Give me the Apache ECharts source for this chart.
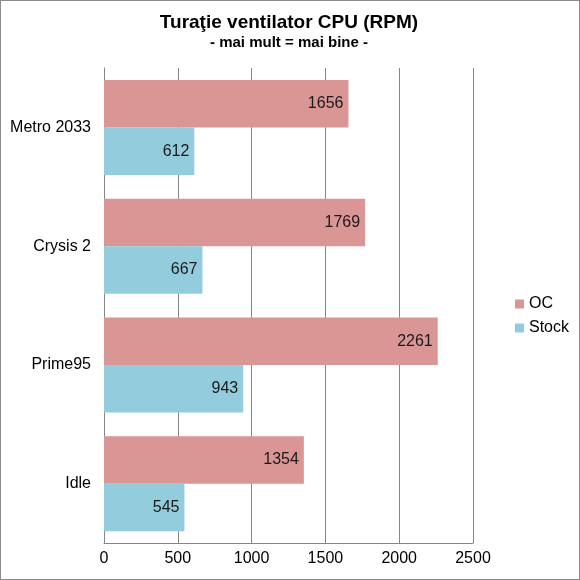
<!DOCTYPE html>
<html>
<head>
<meta charset="utf-8">
<script src="https://cdn.jsdelivr.net/npm/echarts@6/dist/echarts.min.js"></script>
<style>
  html, body { margin: 0; padding: 0; background: #fff; }
  #chart { width: 578px; height: 578px; border: 1px solid #8c8c8c; }
</style>
</head>
<body>
<div id="chart"></div>
<script>
const categories = ["Idle", "Prime95", "Crysis 2", "Metro 2033"];
const ocValues = [1354, 2261, 1769, 1656];
const stockValues = [545, 943, 667, 612];
const xTicks = [0, 500, 1000, 1500, 2000, 2500];

const chart = echarts.init(document.getElementById("chart"));

const label = {
  show: true,
  position: "insideRight",
  color: "#1a1a1a",
  fontSize: 16,
  distance: 5,
  formatter: (p) => String(p.value),
};

chart.setOption({
  animation: false,
  textStyle: { fontFamily: "Liberation Sans" },
  title: {
    text: "Turaţie ventilator CPU (RPM)",
    subtext: "- mai mult = mai bine -",
    left: 283,
    textAlign: "center",
    top: 7,
    itemGap: 3,
    textStyle: { fontSize: 19, fontWeight: "bold", color: "#000" },
    subtextStyle: { fontSize: 15, fontWeight: "bold", color: "#000" },
  },
  legend: {
    orient: "vertical",
    left: 509,
    top: 290,
    itemWidth: 9,
    itemHeight: 9,
    itemGap: 8,
    icon: "rect",
    textStyle: { fontSize: 16, color: "#000" },
    data: ["OC", "Stock"],
  },
  grid: { left: 103, right: 106, top: 67, bottom: 36 },
  xAxis: {
    type: "value",
    min: xTicks[0],
    max: xTicks[xTicks.length - 1],
    interval: 500,
    axisLine: { show: true, lineStyle: { color: "#868686" } },
    axisTick: { show: false },
    axisLabel: { fontSize: 16, color: "#000", margin: 8, formatter: (v) => String(v) },
    splitLine: { lineStyle: { color: "#868686" } },
  },
  yAxis: {
    type: "category",
    data: categories,
    axisLine: { lineStyle: { color: "#868686" } },
    axisTick: { show: false },
    axisLabel: { fontSize: 16, color: "#000", margin: 13 },
  },
  series: [
    {
      name: "OC",
      type: "bar",
      data: ocValues,
      itemStyle: { color: "#d99694" },
      barGap: "0%",
      barCategoryGap: "20%",
      label: label,
    },
    {
      name: "Stock",
      type: "bar",
      data: stockValues,
      itemStyle: { color: "#93cddd" },
      barGap: "0%",
      barCategoryGap: "20%",
      label: label,
    },
  ],
});
</script>
</body>
</html>
